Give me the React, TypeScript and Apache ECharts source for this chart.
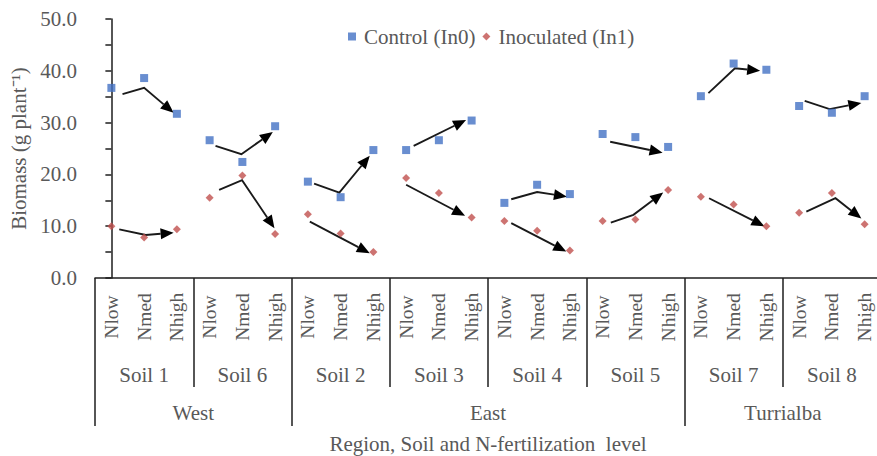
import React, { useEffect, useRef } from "react";
import * as echarts from "echarts";

// ---- data ----
const nLevels = ["Nlow", "Nmed", "Nhigh"];
const soils = ["Soil 1", "Soil 6", "Soil 2", "Soil 3", "Soil 4", "Soil 5", "Soil 7", "Soil 8"];
const regions = ["West", "East", "Turrialba"];
const regionSoilCounts = [2, 4, 2];

const control = [36.7, 38.6, 31.7, 26.6, 22.4, 29.3, 18.6, 15.6, 24.7, 24.7, 26.6, 30.4, 14.5, 18.0, 16.2, 27.8, 27.2, 25.3, 35.1, 41.4, 40.2, 33.2, 31.9, 35.1];
const inoculated = [10.0, 7.8, 9.4, 15.5, 19.8, 8.5, 12.3, 8.6, 5.0, 19.3, 16.4, 11.7, 11.0, 9.1, 5.3, 11.0, 11.3, 17.0, 15.7, 14.2, 10.0, 12.6, 16.4, 10.4];

const yMin = 0;
const yMax = 50;
const yTickStep = 5;
const yLabelStep = 10;

// trend arrows: [category position, value] points, last point = arrow tip
const controlArrows: number[][][] = [
  [[0.34, 35.5], [1.0, 36.7], [1.9, 31.9]],
  [[3.18, 25.5], [3.97, 23.9], [4.93, 28.2]],
  [[6.19, 18.2], [6.96, 16.5], [7.89, 23.6]],
  [[9.23, 25.5], [10.83, 30.5]],
  [[12.21, 15.2], [13.0, 16.6], [13.91, 15.7]],
  [[15.23, 26.3], [16.83, 24.2]],
  [[18.23, 35.7], [19.04, 40.5], [19.81, 40.0]],
  [[21.17, 34.2], [21.93, 32.6], [22.9, 33.8]],
];
const inoculatedArrows: number[][][] = [
  [[0.24, 9.4], [1.05, 8.3], [1.9, 8.75]],
  [[3.29, 17.0], [3.99, 18.9], [4.98, 9.6]],
  [[6.06, 10.9], [7.89, 4.8]],
  [[9.0, 18.0], [10.8, 12.0]],
  [[12.21, 10.6], [13.89, 5.1]],
  [[15.25, 10.7], [15.94, 12.2], [16.85, 16.5]],
  [[18.25, 15.4], [19.94, 10.0]],
  [[21.22, 12.8], [22.11, 15.4], [22.9, 11.5]],
];

const FONT = "'Liberation Serif', 'Times New Roman', serif";
const TEXT = "#595959";
const AXIS = "#1e1e1e";

export default function App() {
  const ref = useRef<HTMLDivElement>(null);

  useEffect(() => {
    if (!ref.current) return;
    const chart = echarts.init(ref.current, undefined, { renderer: "svg" });

    const nCats = soils.length * nLevels.length;
    const nLabels: string[] = [];
    soils.forEach(() => nLevels.forEach((n) => nLabels.push(n)));

    const regionBounds: number[] = [0];
    regionSoilCounts.forEach((c) => regionBounds.push(regionBounds[regionBounds.length - 1] + c));
    const regionMids = regions.map((_, i) => (regionBounds[i] + regionBounds[i + 1]) / 2);
    const innerSoilBounds: number[] = [];
    for (let s = 1; s < soils.length; s++) if (!regionBounds.includes(s)) innerSoilBounds.push(s);
    const soilMids = soils.map((_, i) => i + 0.5);

    const allArrows = [...controlArrows, ...inoculatedArrows];

    const labelStyle = { fontFamily: FONT, fontSize: 21, color: TEXT };

    chart.setOption({
      animation: false,
      grid: { left: 95, right: -4, top: 19, bottom: 178, outerBoundsMode: "none" },
      legend: {
        data: ["Control (In0)", "Inoculated (In1)"],
        left: 343,
        top: 21,
        itemWidth: 8,
        itemHeight: 8,
        itemGap: 7,
        textStyle: { ...labelStyle, padding: [0, 0, 0, 3] },
      },
      xAxis: [
        { type: "value", min: -0.5, max: nCats - 0.5, show: false, position: "bottom" },
        {
          type: "value",
          position: "bottom",
          min: -0.5,
          max: nCats - 0.5,
          axisLine: { show: true, onZero: false, lineStyle: { color: AXIS, width: 1.5 } },
          axisTick: { show: false },
          splitLine: { show: false },
          axisLabel: {
            ...labelStyle,
            fontSize: 19.5,
            customValues: nLabels.map((_, i) => i),
            formatter: (v: number) => nLabels[Math.round(v)] ?? "",
            rotate: 90,
            align: "center",
            verticalAlign: "middle",
            margin: 39,
          },
          name: "Region, Soil and N-fertilization  level",
          nameLocation: "middle",
          nameGap: 166,
          nameTextStyle: { ...labelStyle, verticalAlign: "middle" },
        },
        {
          type: "value",
          position: "bottom",
          min: 0,
          max: soils.length,
          axisLine: { show: false, onZero: false },
          axisTick: { show: true, customValues: innerSoilBounds, length: 109, lineStyle: { color: AXIS, width: 1.5 } },
          splitLine: { show: false },
          axisLabel: {
            ...labelStyle,
            customValues: soilMids,
            formatter: (v: number) => soils[Math.floor(v)] ?? "",
            verticalAlign: "middle",
            margin: 97,
          },
        },
        {
          type: "value",
          position: "bottom",
          min: 0,
          max: soils.length,
          axisLine: { show: false, onZero: false },
          axisTick: { show: true, customValues: regionBounds, length: 148, lineStyle: { color: AXIS, width: 1.5 } },
          splitLine: { show: false },
          axisLabel: {
            ...labelStyle,
            customValues: regionMids,
            formatter: (v: number) => regions[regionMids.indexOf(v)] ?? "",
            verticalAlign: "middle",
            margin: 135,
          },
        },
      ],
      yAxis: {
        type: "value",
        min: yMin,
        max: yMax,
        interval: yTickStep,
        axisLine: { show: true, lineStyle: { color: AXIS, width: 1.5 } },
        axisTick: { show: true, length: 6, lineStyle: { color: AXIS, width: 1.5 } },
        splitLine: { show: false },
        axisLabel: {
          ...labelStyle,
          margin: 18,
          formatter: (v: number) => (Math.round(v) % yLabelStep === 0 ? v.toFixed(1) : ""),
        },
        name: "Biomass (g plant\u207B\u00B9)",
        nameLocation: "middle",
        nameGap: 75,
        nameTextStyle: { ...labelStyle, verticalAlign: "middle" },
      },
      series: [
        {
          type: "custom",
          name: "arrows",
          xAxisIndex: 0,
          yAxisIndex: 0,
          clip: false,
          silent: true,
          z: 1,
          data: allArrows.map((a) => a[0]),
          renderItem: (params: any, api: any) => {
            const pts = allArrows[params.dataIndex].map((p) => api.coord(p));
            const tip = pts[pts.length - 1];
            const prev = pts[pts.length - 2];
            const dx = tip[0] - prev[0];
            const dy = tip[1] - prev[1];
            const len = Math.sqrt(dx * dx + dy * dy) || 1;
            const ux = dx / len;
            const uy = dy / len;
            const L = 13;
            const W = 5.5;
            const base = [tip[0] - ux * L, tip[1] - uy * L];
            const linePts = pts.slice(0, -1).concat([base]);
            return {
              type: "group",
              children: [
                {
                  type: "polyline",
                  shape: { points: linePts },
                  style: { stroke: "#1a1a1a", lineWidth: 1.9, fill: null },
                },
                {
                  type: "polygon",
                  shape: {
                    points: [
                      tip,
                      [base[0] - uy * W, base[1] + ux * W],
                      [base[0] + uy * W, base[1] - ux * W],
                    ],
                  },
                  style: { fill: "#000" },
                },
              ],
            };
          },
        },
        {
          type: "scatter",
          name: "Control (In0)",
          xAxisIndex: 0,
          yAxisIndex: 0,
          symbol: "rect",
          symbolSize: 8,
          z: 3,
          itemStyle: { color: "#4472C4" },
          data: control.map((v, i) => [i, v]),
        },
        {
          type: "scatter",
          name: "Inoculated (In1)",
          xAxisIndex: 0,
          yAxisIndex: 0,
          symbol: "diamond",
          symbolSize: 8,
          z: 3,
          itemStyle: { color: "#C0504D" },
          data: inoculated.map((v, i) => [i, v]),
        },
      ],
    });

    return () => chart.dispose();
  }, []);

  return (
    <div
      ref={ref}
      style={{ position: "absolute", left: 0, top: 0, width: 877, height: 456, background: "#fff" }}
    />
  );
}
